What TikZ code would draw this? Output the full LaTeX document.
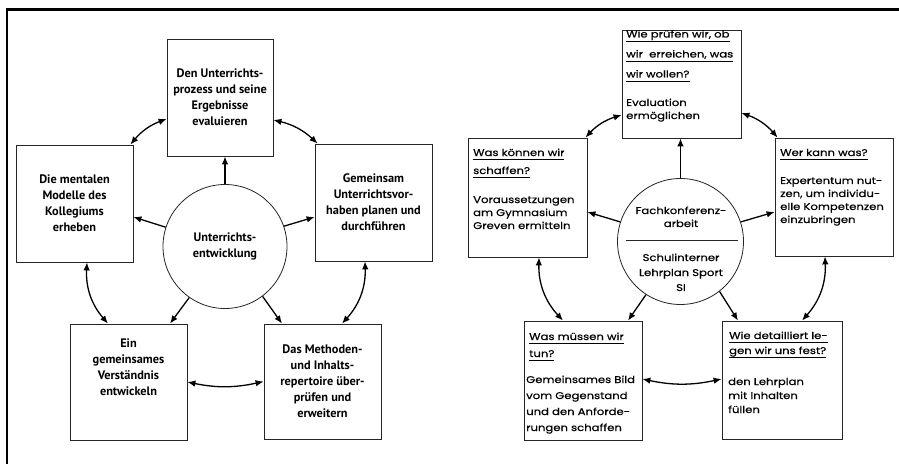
\documentclass[tikz,border=0pt]{standalone}
\usepackage{fontspec}
\setmainfont{PT Sans}
\newfontfamily\gothic[FakeStretch=1.2,FakeBold=0.6]{Poppins}
\usetikzlibrary{arrows.meta}
\newcommand\qline[1]{\setbox0\hbox{#1}\rlap{\rule[-4pt]{\wd0}{0.8pt}}\box0}
\begin{document}
\begin{tikzpicture}[x=1pt,y=1pt,
  box/.style={draw=black!85, line width=0.8pt, inner sep=0pt, rectangle},
  lbox/.style={box, font=\bfseries\fontsize{12.3}{16}\selectfont, align=center},
  circ/.style={draw=black!85, line width=0.8pt, circle, inner sep=0pt},
  arr/.style={line width=1.3pt, -{Latex[length=8pt,width=6.5pt]}},
  darr/.style={line width=1.3pt, {Latex[length=8pt,width=6.5pt]}-{Latex[length=8pt,width=6.5pt]}},
  rq/.style={font=\gothic\fontsize{9.7}{20}\selectfont, align=left, anchor=base west, inner sep=0pt},
  rd/.style={font=\gothic\fontsize{9.7}{13}\selectfont, align=left, anchor=base west, inner sep=0pt},
  ctext/.style={font=\gothic\fontsize{9.7}{14}\selectfont, align=center, anchor=base, inner sep=0pt},
]
\useasboundingbox (0,0) rectangle (899,464);
\fill[white] (0,0) rectangle (899,464);
\draw[line width=2.5pt] (7,0) -- (7,454.5) -- (899,454.5);

% ---------- left diagram ----------
\node[lbox, minimum width=106pt, minimum height=117pt] (T1) at (220,366.5) {Den Unterrichts-\\prozess und seine\\Ergebnisse\\evaluieren};
\node[lbox, minimum width=117pt, minimum height=117pt] (L1) at (74.5,260.5) {Die mentalen\\Modelle des\\Kollegiums\\erheben};
\node[lbox, minimum width=117pt, minimum height=117pt] (R1) at (373.5,261.5) {Gemeinsam\\Unterrichtsvor-\\haben planen und\\durchführen};
\node[lbox, minimum width=117pt, minimum height=116pt] (BL1) at (128.5,82) {Ein\\gemeinsames\\Verständnis\\entwickeln\\[14pt]};
\node[lbox, minimum width=117pt, minimum height=115pt] (BR1) at (322.5,82.5) {Das Methoden-\\und Inhalts-\\repertoire über-\\prüfen und\\erweitern};
\node[circ, minimum size=124pt, font=\bfseries\fontsize{12.3}{16}\selectfont, align=center] (C1) at (225,217.5) {Unterrichts-\\entwicklung};

\draw[arr] (C1.north) -- (C1.north |- T1.south);
\draw[arr] (C1.162) -- ([yshift=-13.5pt]L1.east);
\draw[arr] (C1.19) -- ([yshift=-14.5pt]R1.west);
\draw[arr] (C1.235) -- ([xshift=41.5pt]BL1.north);
\draw[arr] (C1.-53) -- ([xshift=-40.5pt]BR1.north);

\draw[darr] ([xshift=-3pt]L1.north east) to[bend left=15] ([yshift=-21.5pt]T1.west);
\draw[darr] ([yshift=-22.5pt]T1.east) to[bend left=15] ([xshift=3pt]R1.north west);
\draw[darr] ([xshift=-8.5pt]R1.south) to[bend left=22] ([xshift=19.5pt]BR1.north);
\draw[darr] (BR1.west) to[bend left=12] (BL1.east);
\draw[darr] ([xshift=-20.5pt]BL1.north) to[bend left=22] ([xshift=12.5pt]L1.south);

% ---------- right diagram ----------
\node[box, minimum width=119pt, minimum height=108pt] (T2) at (681.5,380) {};
\node[box, minimum width=119pt, minimum height=119pt] (L2) at (527.5,266.5) {};
\node[box, minimum width=118pt, minimum height=118pt] (R2) at (834,267) {};
\node[box, minimum width=118pt, minimum height=119pt] (BL2) at (583,83.5) {};
\node[box, minimum width=120pt, minimum height=118pt] (BR2) at (782,84) {};
\node[circ, minimum size=126pt] (C2) at (680.5,222.5) {};

\node[rq] (T2q) at (626,386.5) {\qline{Wie prüfen wir, ob}\\\qline{wir\ \ erreichen, was}\\\qline{wir wollen?}};
\node[rd] (T2d) at (626,345) {Evaluation\\ermöglichen};
\node[rq, font=\gothic\fontsize{9.7}{18}\selectfont] (L2q) at (473,290) {\qline{Was können wir}\\\qline{schaffen?}};
\node[rd] (L2d) at (473,235) {Voraussetzungen\\am Gymnasium\\Greven ermitteln};
\node[rq] (R2q) at (780,308) {\qline{Wer kann was?}};
\node[rd] (R2d) at (780,241) {Expertentum nut-\\zen, um individu-\\elle Kompetenzen\\einzubringen};
\node[rq, font=\gothic\fontsize{9.7}{17}\selectfont] (BL2q) at (529,107) {\qline{Was müssen wir}\\\qline{tun?}};
\node[rd, font=\gothic\fontsize{9.7}{16}\selectfont] (BL2d) at (526,33) {Gemeinsames Bild\\vom Gegenstand\\und den Anforde-\\rungen schaffen};
\node[rq, font=\gothic\fontsize{9.7}{15}\selectfont] (BR2q) at (729,110) {\qline{Wie detailliert le-}\\\qline{gen wir uns fest?}};
\node[rd, font=\gothic\fontsize{9.7}{14}\selectfont] (BR2d) at (728,51) {den Lehrplan\\mit Inhalten\\füllen};

\node[ctext, font=\gothic\fontsize{9.7}{13}\selectfont] (C2a) at (681,237) {Fachkonferenz-\\arbeit};
\draw[line width=0.8pt, black!85] ([xshift=8.5pt,yshift=1.5pt]C2.west) -- ([xshift=-5.5pt,yshift=1.5pt]C2.east);
\node[ctext, font=\gothic\fontsize{9.7}{15}\selectfont] (C2b) at (681,173) {Schulinterner\\Lehrplan Sport\\SI};

\draw[arr] (C2.north) -- (C2.north |- T2.south);
\draw[arr] (C2.162) -- ([yshift=-14.5pt]L2.east);
\draw[arr] (C2.18) -- ([yshift=-15pt]R2.west);
\draw[arr] (C2.237) -- ([xshift=45pt]BL2.north);
\draw[arr] (C2.-52.5) -- ([xshift=-44pt]BR2.north);

\draw[darr] ([xshift=-2pt]L2.north east) to[bend left=15] ([yshift=-31pt]T2.west);
\draw[darr] ([yshift=-29pt]T2.east) to[bend left=15] ([xshift=3pt]R2.north west);
\draw[darr] ([xshift=-9pt]R2.south) to[bend left=22] ([xshift=20pt]BR2.north);
\draw[darr] ([yshift=1pt]BR2.west) to[bend left=12] ([yshift=1.5pt]BL2.east);
\draw[darr] ([xshift=-20pt]BL2.north) to[bend left=22] ([xshift=11.5pt]L2.south);
\end{tikzpicture}
\end{document}
